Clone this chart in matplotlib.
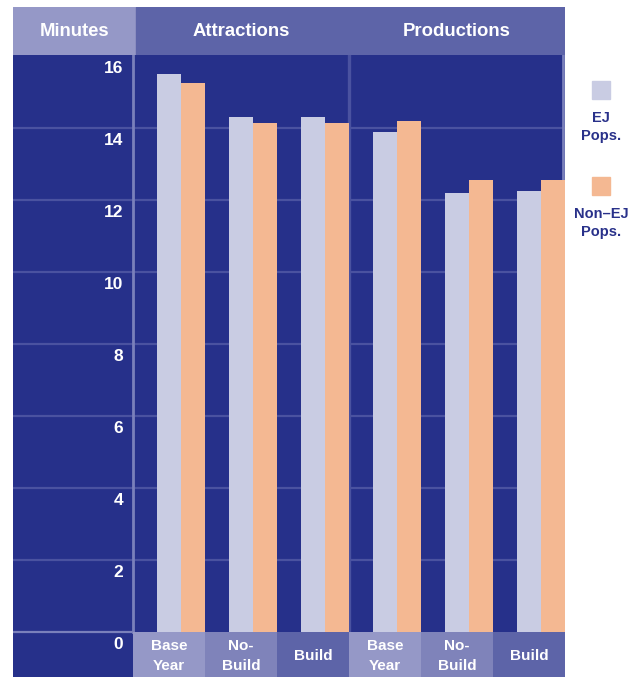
"""Average travel time by trip end: EJ vs non-EJ populations."""

import matplotlib
matplotlib.use("Agg")
import matplotlib.pyplot as plt
from matplotlib.patches import Rectangle
import numpy as np

plt.rcParams["font.family"] = ["Liberation Sans", "DejaVu Sans"]
plt.rcParams["font.weight"] = "bold"

# data
groups = ["Attractions", "Productions"]
scenarios = ["Base\nYear", "No-\nBuild", "Build"]
categories = scenarios * len(groups)
ej_minutes = [15.5, 14.3, 14.3, 13.9, 12.2, 12.25]
non_ej_minutes = [15.25, 14.15, 14.15, 14.2, 12.55, 12.55]
y_ticks = [0, 2, 4, 6, 8, 10, 12, 14, 16]
series_labels = ["EJ\nPops.", "Non\u2013EJ\nPops."]

# palette
NAVY = "#26308a"
HEADER = "#5d64a8"
LIGHT_CELL = "#9598c7"
MID_CELL = "#7f83ba"
EJ_COLOR = "#c9cce3"
NON_EJ_COLOR = "#f4b892"
GRID = "#4a52a0"
RULE = "#7a80bb"
LEGEND_TEXT = "#29318a"
CELL_COLORS = [LIGHT_CELL, MID_CELL, HEADER] * len(groups)

W, H = 639, 677
PX = 36               # pixels per minute
LEFT_COL = -120 / 72  # width of the minutes column in category units
LABEL_ROW = -45 / PX  # depth of the scenario label row in minutes


def _px_axes(fig, x0, y0, x1, y1):
    return fig.add_axes([x0 / W, 1 - y1 / H, (x1 - x0) / W, (y1 - y0) / H])


def build_figure():
    fig = plt.figure(figsize=(W / 100, H / 100), dpi=100)
    fig.patch.set_facecolor("white")

    n = len(categories)
    x = np.arange(n)
    top = y_ticks[-1] + 1 / PX

    # main panel: minutes column, bars and scenario row
    ax = _px_axes(fig, 13, 55, 565, 677)
    ax.set_xlim(LEFT_COL, n)
    ax.set_ylim(LABEL_ROW, top)
    ax.axis("off")
    ax.add_patch(Rectangle((LEFT_COL, LABEL_ROW), n - LEFT_COL, top - LABEL_ROW,
                           color=NAVY, zorder=0))

    for t in y_ticks[1:-1]:
        ax.plot([LEFT_COL, n], [t, t], color=GRID, lw=1.6, zorder=1)
    ax.plot([LEFT_COL, 0], [0, 0], color=RULE, lw=1.6, zorder=1)
    ax.plot([0, 0], [0, top], color=RULE, lw=2.0, zorder=1)
    ax.plot([3, 3], [0, top], color=GRID, lw=2.4, zorder=1)
    ax.plot([n - 0.025, n - 0.025], [0, top], color=RULE, lw=2.0, zorder=1)

    for t in y_ticks:
        ax.text(-10 / 72, t - 0.34, str(t), color="white", fontsize=12.5,
                ha="right", va="center", fontweight="bold", zorder=3)

    ax.bar(x + 0.5, ej_minutes, width=1 / 3, color=EJ_COLOR, zorder=2)
    ax.bar(x + 5 / 6, non_ej_minutes, width=1 / 3, color=NON_EJ_COLOR, zorder=2)

    ax.bar(x + 0.5, -LABEL_ROW, bottom=LABEL_ROW, width=1.0, color=CELL_COLORS, zorder=2)
    for i, label in enumerate(categories):
        ax.text(i + 0.5, LABEL_ROW / 2 - 0.03, label, color="white", fontsize=11,
                ha="center", va="center", linespacing=1.55, fontweight="bold", zorder=3)

    # header band
    hx = _px_axes(fig, 13, 7, 565, 55)
    hx.set_xlim(LEFT_COL, n)
    hx.set_ylim(0, 1)
    hx.axis("off")
    split = 3 / 72
    hx.add_patch(Rectangle((LEFT_COL, 0), split - LEFT_COL, 1, color=LIGHT_CELL))
    hx.add_patch(Rectangle((split, 0), n - split, 1, color=HEADER))
    hx.text((LEFT_COL + split) / 2, 0.48, "Minutes", color="white", fontsize=13.3,
            ha="center", va="center", fontweight="bold")
    per_group = len(scenarios)
    for g, name in enumerate(groups):
        hx.text(g * per_group + per_group / 2, 0.48, name, color="white", fontsize=13.3,
                ha="center", va="center", fontweight="bold")

    # legend at the right
    lx = _px_axes(fig, 0, 0, W, H)
    lx.set_xlim(0, W)
    lx.set_ylim(H, 0)
    lx.axis("off")
    lx.set_zorder(5)
    for y0, color, label in zip((81, 177), (EJ_COLOR, NON_EJ_COLOR), series_labels):
        lx.add_patch(Rectangle((592, y0), 18, 18, color=color))
        lx.text(601, y0 + 46, label, color=LEGEND_TEXT, fontsize=10.5, ha="center",
                va="center", linespacing=1.4, fontweight="bold")

    return fig


def main():
    fig = build_figure()
    fig.savefig("out.png", dpi=100)
    plt.close(fig)


if __name__ == "__main__":
    main()
